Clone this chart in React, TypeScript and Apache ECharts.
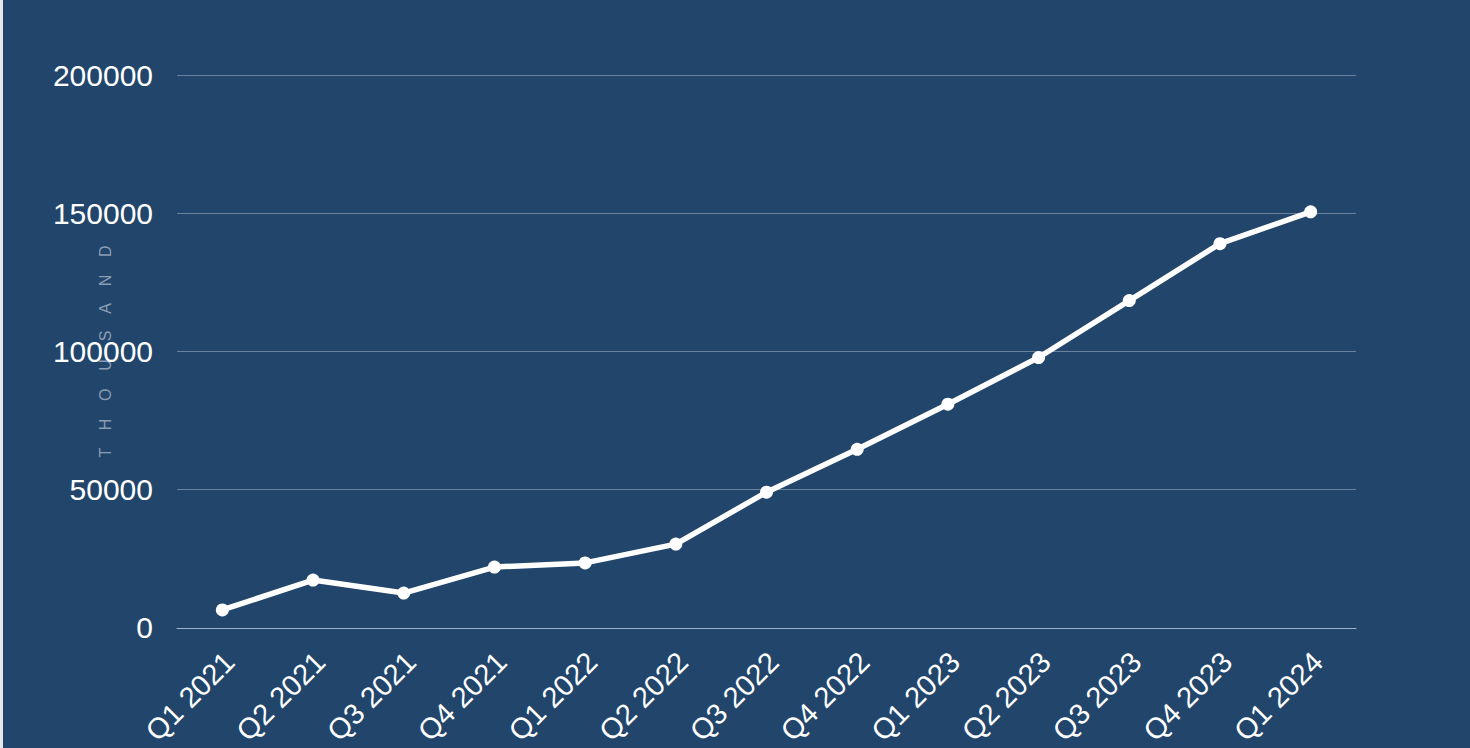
import React, { useEffect, useRef } from "react";
import * as echarts from "echarts";

const categories = [
  "Q1 2021", "Q2 2021", "Q3 2021", "Q4 2021",
  "Q1 2022", "Q2 2022", "Q3 2022", "Q4 2022",
  "Q1 2023", "Q2 2023", "Q3 2023", "Q4 2023",
  "Q1 2024",
];
const values = [
  6500, 17300, 12600, 22000,
  23500, 30300, 49100, 64600,
  80900, 97800, 118400, 139000,
  150500,
];
const yAxisName = "T    H    O    U    S    A    N    D";

export default function App() {
  const ref = useRef<HTMLDivElement>(null);
  useEffect(() => {
    document.body.style.margin = "0";
    document.body.style.background = "#e8e9ec";
    const chart = echarts.init(ref.current!, null, { renderer: "svg" });
    chart.setOption({
      animation: false,
      backgroundColor: "#22466b",
      textStyle: { fontFamily: "Liberation Sans, Arial, sans-serif" },
      grid: { left: 174, right: 114, top: 75, bottom: 119, containLabel: false },
      xAxis: {
        type: "category",
        data: categories,
        boundaryGap: true,
        axisLine: { show: true, lineStyle: { color: "#9fb3cb", width: 1 } },
        axisTick: { show: false },
        axisLabel: {
          color: "#ffffff",
          fontSize: 29,
          rotate: 45,
          margin: 22,
          interval: 0,
          verticalAlign: "top",
          lineHeight: 20,
        },
      },
      yAxis: {
        type: "value",
        min: 0,
        max: 200000,
        interval: 50000,
        name: yAxisName,
        nameLocation: "middle",
        nameGap: 64,
        nameMoveOverlap: false,
        nameTextStyle: { color: "#8b9db3", fontSize: 16 },
        axisLine: { show: false },
        axisTick: { show: false },
        axisLabel: { color: "#ffffff", fontSize: 30, margin: 24, formatter: (v: number) => String(v) },
        splitLine: { lineStyle: { color: "rgba(255,255,255,0.32)", width: 1 } },
      },
      series: [
        {
          type: "line",
          data: values,
          symbol: "circle",
          symbolSize: 13,
          lineStyle: { color: "#ffffff", width: 5.5 },
          itemStyle: { color: "#ffffff" },
        },
      ],
    });
    return () => chart.dispose();
  }, []);
  return <div ref={ref} style={{ width: 1467, height: 748, marginLeft: 3 }} />;
}
